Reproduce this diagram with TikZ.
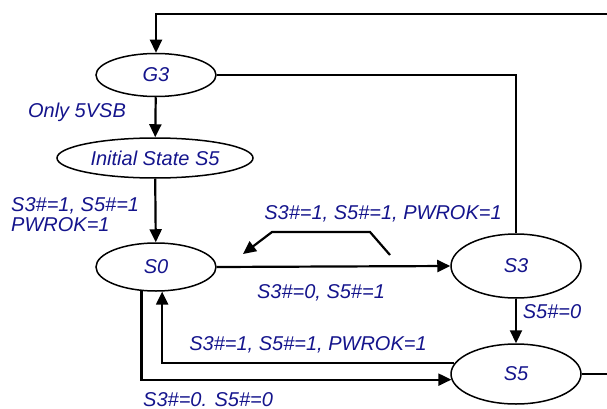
\documentclass[tikz,border=0pt]{standalone}
\usepackage{xcolor}
\usepackage{fontspec}
\setmainfont{Liberation Sans}
\usepackage{tikz}
\usetikzlibrary{shapes.geometric,arrows.meta}

\definecolor{labelblue}{RGB}{20,20,140}

\begin{document}
\begin{tikzpicture}[x=1pt,y=-1pt]
			\tikzstyle{state} = [draw, ellipse, line width=1.5pt, inner sep=0pt, text=labelblue, font=\fontsize{20}{20}\selectfont\itshape]
			\tikzstyle{cond} = [inner sep=0pt, text=labelblue, font=\fontsize{20}{20}\selectfont\itshape]
			\tikzset{edge/.style = {line width=2.2pt, -{Triangle[length=13pt,width=12pt]}}}
			\tikzset{wire/.style = {line width=2.2pt}}
			
			\useasboundingbox (0,0) rectangle (607,409);
			\clip (0,0) rectangle (607,409);
			
			\node[state, minimum width=120pt, minimum height=43pt](g3) at (156,75) {G3};
			\node[state, minimum width=196pt, minimum height=40pt](initial) at (155,158) {Initial State S5};
			\node[state, minimum width=120pt, minimum height=48pt](s0) at (156,267) {S0};
			\node[state, minimum width=130pt, minimum height=64pt](s3) at (516,266) {S3};
			\node[state, minimum width=130pt, minimum height=60pt](s5) at (516,374) {S5};
			
			\draw[edge](g3) to (initial);
			\draw[edge](initial) to (s0);
			\draw[edge](s0.east) to (s3.west);
			\draw[edge](s3) to (s5);
			\draw[wire](g3.east) -| (s3.north);
			
			\coordinate (loop) at (612,14);
			\draw[edge](s5.east) -| (loop) -| (g3.north);
			
			\draw[edge](s5.170) -| (s0.284);
			\draw[edge](s0.239) |- (s5.185);
			
			\coordinate (back1) at (390,255);
			\coordinate (back2) at (370,232);
			\coordinate (back3) at (272,232);
			\coordinate (back4) at (243,254);
			\draw[edge](back1) -- (back2) -- (back3) -- (back4);
			
			\node[cond](only) at (77,112) {Only 5VSB};
			\node[cond, anchor=west, align=left](power) at (11,215) {S3\#=1, S5\#=1\\PWROK=1};
			\node[cond](wake3) at (383,214) {S3\#=1, S5\#=1, PWROK=1};
			\node[cond](sleep3) at (321,293) {S3\#=0, S5\#=1};
			\node[cond](down5) at (552,312) {S5\#=0};
			\node[cond](wake5) at (308,345) {S3\#=1, S5\#=1, PWROK=1};
			\node[cond, anchor=base west](sleep5) at (143,406) {S3\#=0. S5\#=0};
			
			\end{tikzpicture}
\end{document}
